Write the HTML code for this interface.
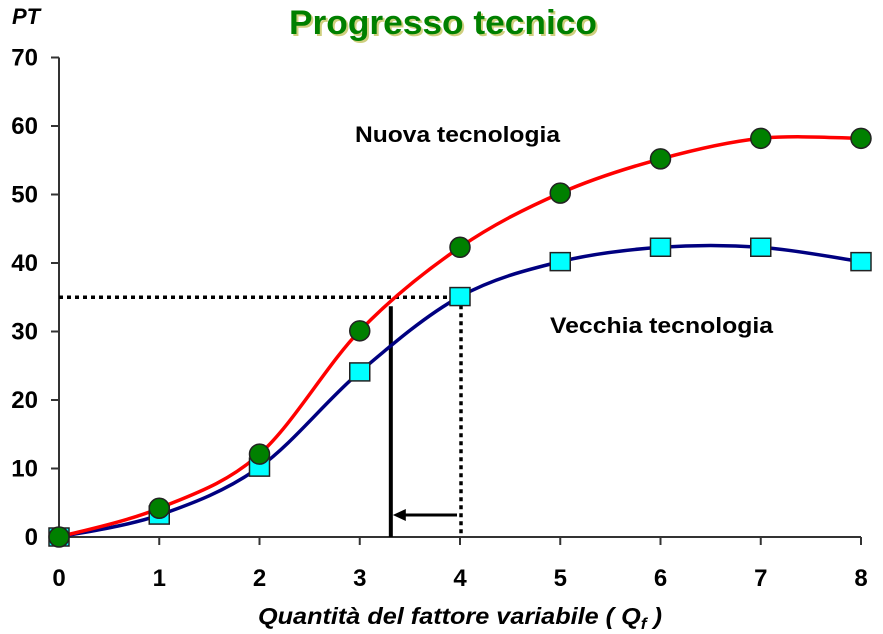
<!DOCTYPE html>
<html><head><meta charset="utf-8"><style>
body{margin:0;background:#fff;}
svg{display:block;font-family:"Liberation Sans",Arial,sans-serif;}
</style></head><body>
<svg id="chart" width="883" height="634" viewBox="0 0 883 634">
<text x="291" y="36" font-size="34" font-weight="bold" fill="#a0a000" opacity="0.5" textLength="308" lengthAdjust="spacingAndGlyphs">Progresso tecnico</text>
<text x="289" y="34" font-size="34" font-weight="bold" fill="#008000" textLength="308" lengthAdjust="spacingAndGlyphs">Progresso tecnico</text>
<text x="12" y="24" font-size="22" font-weight="bold" font-style="italic">PT</text>
<text x="258" y="624" font-size="23" font-weight="bold" font-style="italic" textLength="404" lengthAdjust="spacingAndGlyphs">Quantità del fattore variabile ( Q<tspan font-size="16" dy="5">f</tspan><tspan dy="-5"> )</tspan></text>
<text x="355" y="142" font-size="22" font-weight="bold" textLength="205" lengthAdjust="spacingAndGlyphs">Nuova tecnologia</text>
<text x="550" y="333" font-size="22" font-weight="bold" textLength="223" lengthAdjust="spacingAndGlyphs">Vecchia tecnologia</text>
<g id="axes"></g>
<g id="guides"></g>
<g id="series"></g>
</svg>
<script>
const xCats=[0,1,2,3,4,5,6,7,8];
const newTech=[0,4.2,12.1,30.1,42.3,50.2,55.2,58.2,58.2];
const oldTech=[0,3.2,10.2,24.1,35.1,40.2,42.3,42.3,40.2];
const yTicks=[0,10,20,30,40,50,60,70];
const refLevel=35, refX=4, newX=3.3;
const NS="http://www.w3.org/2000/svg";
const sx=v=>59+v*100.25, sy=v=>537-v*6.85;
function mk(t,a,p){const e=document.createElementNS(NS,t);for(const k in a)e.setAttribute(k,a[k]);p.appendChild(e);return e;}
const ax=document.getElementById('axes');
let e=mk('line',{x1:59,y1:sy(70),x2:59,y2:537,stroke:'#333','stroke-width':2},ax);


e=mk('line',{x1:59,y1:537,x2:sx(8),y2:537,stroke:'#333','stroke-width':2},ax);


yTicks.forEach(v=>{
 mk('line',{x1:51,y1:sy(v),x2:59,y2:sy(v),stroke:'#333','stroke-width':2},ax);
 const t=mk('text',{x:38,y:sy(v)+8,'font-size':24,'font-weight':'bold','text-anchor':'end'},ax);t.textContent=v;
 
 
});
xCats.forEach(v=>{
 mk('line',{x1:sx(v),y1:537,x2:sx(v),y2:545,stroke:'#333','stroke-width':2},ax);
 const t=mk('text',{x:sx(v),y:586,'font-size':24,'font-weight':'bold','text-anchor':'middle'},ax);t.textContent=v;
 
 
});
const g=document.getElementById('guides');
e=mk('line',{x1:59,y1:sy(refLevel),x2:sx(refX),y2:sy(refLevel),stroke:'#000','stroke-width':3.5,'stroke-dasharray':'4 4'},g);


e=mk('line',{x1:sx(refX)+1,y1:sy(refLevel),x2:sx(refX)+1,y2:537,stroke:'#000','stroke-width':3.5,'stroke-dasharray':'4 4'},g);


e=mk('line',{x1:sx(newX)+1,y1:sy(refLevel)+9,x2:sx(newX)+1,y2:537,stroke:'#000','stroke-width':4},g);


e=mk('line',{x1:sx(refX)-3,y1:515,x2:sx(newX)+12,y2:515,stroke:'#000','stroke-width':3},g);


e=mk('path',{d:`M${sx(newX)+3},515 l13,-6 l0,12 z`,fill:'#000'},g);


function path(vals){
 const p=vals.map((v,i)=>[sx(xCats[i]),sy(v)]);let d=`M${p[0][0]},${p[0][1]}`;
 for(let i=0;i<p.length-1;i++){const p0=p[i-1]||p[i],p1=p[i],p2=p[i+1],p3=p[i+2]||p[i+1];
  d+=` C${p1[0]+(p2[0]-p0[0])/6},${p1[1]+(p2[1]-p0[1])/6} ${p2[0]-(p3[0]-p1[0])/6},${p2[1]-(p3[1]-p1[1])/6} ${p2[0]},${p2[1]}`;}
 return d;}
const s=document.getElementById('series');
e=mk('path',{d:path(oldTech),fill:'none',stroke:'#000080','stroke-width':3.5},s);


e=mk('path',{d:path(newTech),fill:'none',stroke:'#ff0000','stroke-width':3.5},s);


oldTech.forEach((v,i)=>{const r=mk('rect',{x:sx(xCats[i])-10,y:sy(v)-9,width:20,height:18,fill:'#00ffff',stroke:'#222','stroke-width':1.5},s);
 
 });
newTech.forEach((v,i)=>{const c=mk('circle',{cx:sx(xCats[i]),cy:sy(v),r:10,fill:'#008000',stroke:'#222','stroke-width':1.5},s);
 
 });
</script>
</body></html>
